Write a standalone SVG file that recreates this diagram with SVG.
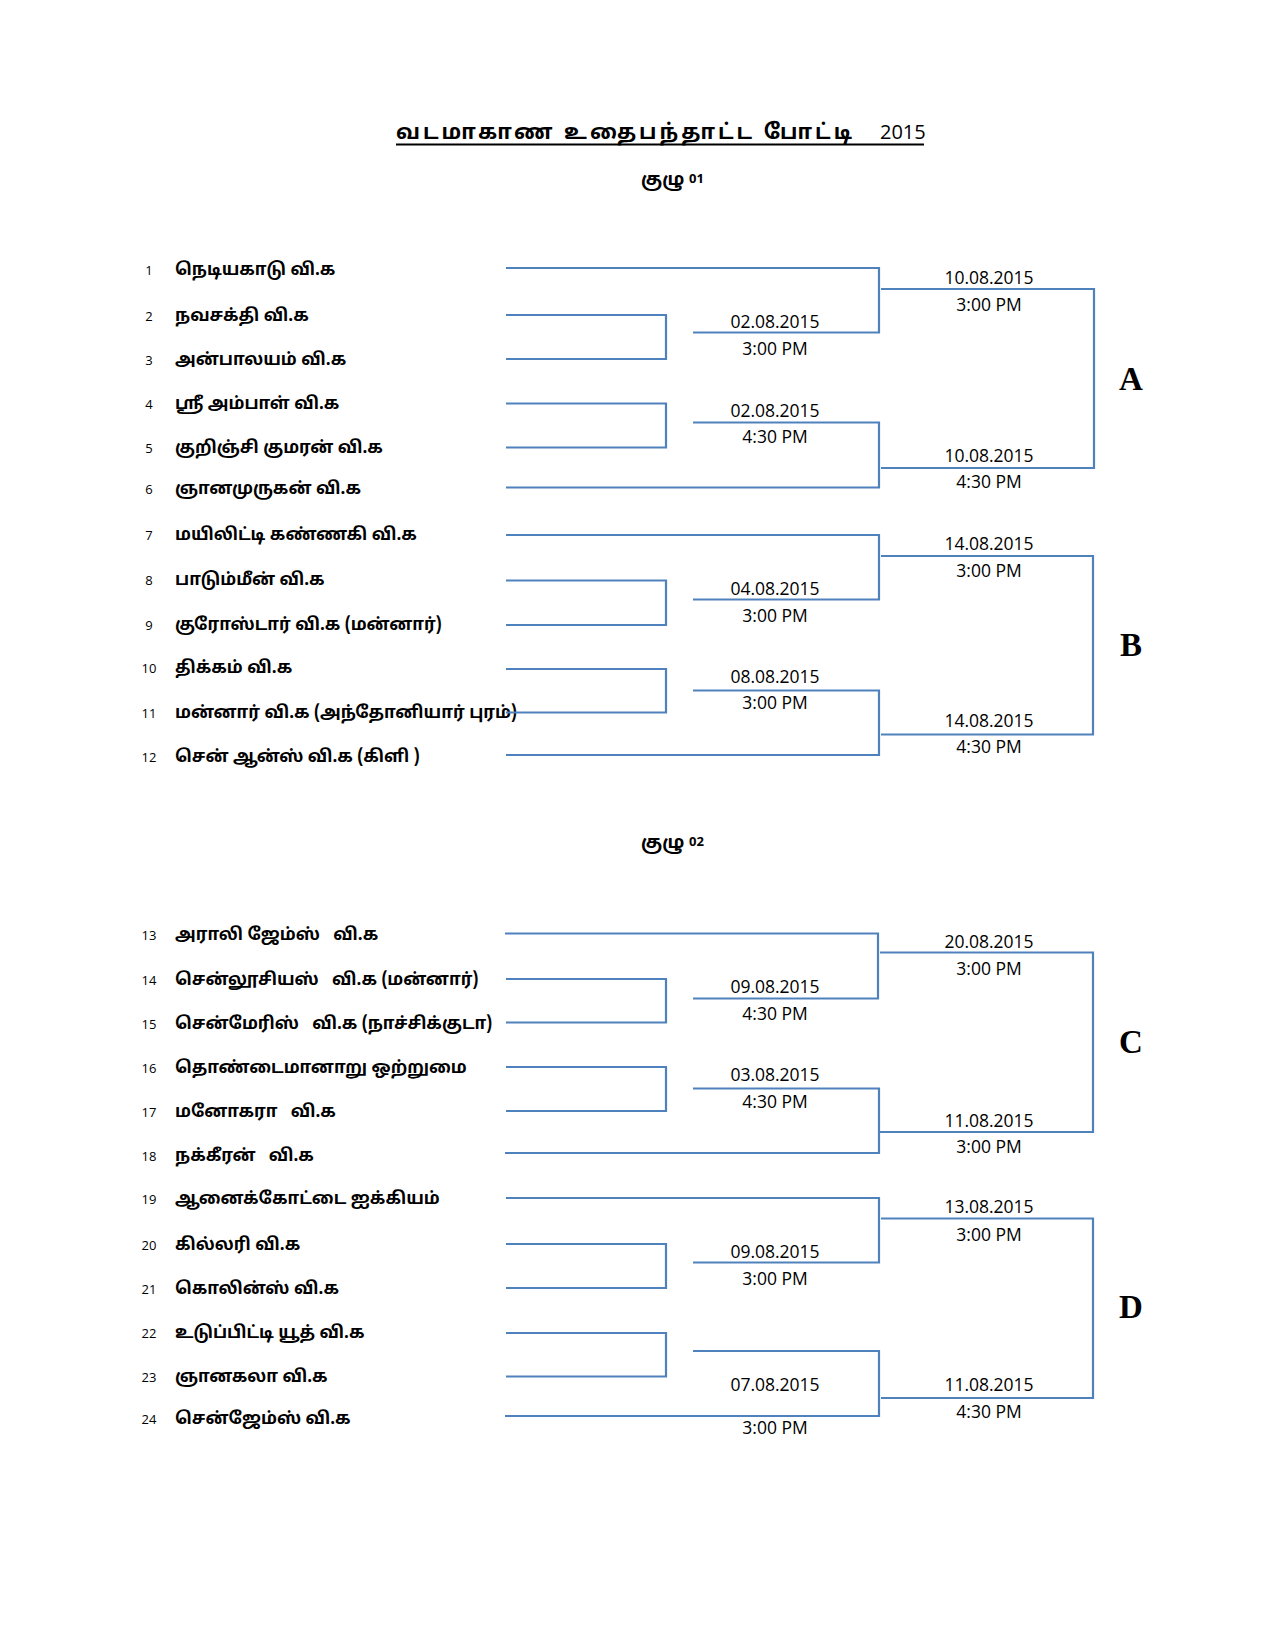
<svg xmlns="http://www.w3.org/2000/svg" width="1275" height="1650" viewBox="0 0 1275 1650">
<style>
.bg{fill:#ffffff}
.ln{stroke:#4F81BD;stroke-width:2.2;fill:none}
.num{font-family:"Open Sans","Liberation Sans",sans-serif;font-size:13px;fill:#000;text-anchor:middle}
.nm{font-family:"Noto Sans Tamil","Noto Sans","Liberation Sans",sans-serif;font-size:17px;font-weight:bold;fill:#000;white-space:pre}
.dt{font-family:"Open Sans","Liberation Sans",sans-serif;font-size:17.5px;fill:#000;text-anchor:middle}
.grp{font-family:"Liberation Serif",serif;font-size:33px;font-weight:bold;fill:#000;text-anchor:middle}
.ttl{font-family:"Noto Sans Tamil","Noto Sans","Liberation Sans",sans-serif;font-size:21px;font-weight:bold;fill:#000;white-space:pre}
.yr{font-family:"Open Sans","Liberation Sans",sans-serif;font-size:20px;fill:#000}
.hd{font-family:"Noto Sans Tamil","Noto Sans","Liberation Sans",sans-serif;font-size:18px;font-weight:bold;fill:#000}
.hn{font-family:"Open Sans","Liberation Sans",sans-serif;font-size:13px;font-weight:bold;fill:#000}
.ul{stroke:#000;stroke-width:2}
</style>
<rect class="bg" x="0" y="0" width="1275" height="1650"/>

<g id="title">
<text class="ttl" x="396" y="139" textLength="456" lengthAdjust="spacing">வடமாகாண உதைபந்தாட்ட போட்டி</text>
<text class="yr" x="880" y="139">2015</text>
<line class="ul" x1="396" y1="144.5" x2="924" y2="144.5"/>
</g>
<g id="heading1"><text class="hd" x="641" y="185">குழு</text><text class="hn" x="689" y="183">01</text></g>
<g id="heading2"><text class="hd" x="641" y="848">குழு</text><text class="hn" x="689" y="846">02</text></g>

<g id="teams">
<g id="t1"><text class="num" x="149" y="275">1</text><text class="nm" x="175" y="275">நெடியகாடு வி.க</text></g>
<g id="t2"><text class="num" x="149" y="321">2</text><text class="nm" x="175" y="321">நவசக்தி வி.க</text></g>
<g id="t3"><text class="num" x="149" y="365">3</text><text class="nm" x="175" y="365">அன்பாலயம் வி.க</text></g>
<g id="t4"><text class="num" x="149" y="409">4</text><text class="nm" x="175" y="409">ஸ்ரீ அம்பாள் வி.க</text></g>
<g id="t5"><text class="num" x="149" y="453">5</text><text class="nm" x="175" y="453">குறிஞ்சி குமரன் வி.க</text></g>
<g id="t6"><text class="num" x="149" y="494">6</text><text class="nm" x="175" y="494">ஞானமுருகன் வி.க</text></g>
<g id="t7"><text class="num" x="149" y="540">7</text><text class="nm" x="175" y="540">மயிலிட்டி கண்ணகி வி.க</text></g>
<g id="t8"><text class="num" x="149" y="585">8</text><text class="nm" x="175" y="585">பாடும்மீன் வி.க</text></g>
<g id="t9"><text class="num" x="149" y="630">9</text><text class="nm" x="175" y="630">குரோஸ்டார் வி.க (மன்னார்)</text></g>
<g id="t10"><text class="num" x="149" y="673">10</text><text class="nm" x="175" y="673">திக்கம் வி.க</text></g>
<g id="t11"><text class="num" x="149" y="718">11</text><text class="nm" x="175" y="718">மன்னார் வி.க (அந்தோனியார் புரம்)</text></g>
<g id="t12"><text class="num" x="149" y="762">12</text><text class="nm" x="175" y="762">சென் ஆன்ஸ் வி.க (கிளி )</text></g>
<g id="t13"><text class="num" x="149" y="940">13</text><text class="nm" x="175" y="940">அராலி ஜேம்ஸ்   வி.க</text></g>
<g id="t14"><text class="num" x="149" y="985">14</text><text class="nm" x="175" y="985">சென்லூசியஸ்   வி.க (மன்னார்)</text></g>
<g id="t15"><text class="num" x="149" y="1029">15</text><text class="nm" x="175" y="1029">சென்மேரிஸ்   வி.க (நாச்சிக்குடா)</text></g>
<g id="t16"><text class="num" x="149" y="1073">16</text><text class="nm" x="175" y="1073">தொண்டைமானாறு ஒற்றுமை</text></g>
<g id="t17"><text class="num" x="149" y="1117">17</text><text class="nm" x="175" y="1117">மனோகரா   வி.க</text></g>
<g id="t18"><text class="num" x="149" y="1161">18</text><text class="nm" x="175" y="1161">நக்கீரன்   வி.க</text></g>
<g id="t19"><text class="num" x="149" y="1204">19</text><text class="nm" x="175" y="1204">ஆனைக்கோட்டை ஐக்கியம்</text></g>
<g id="t20"><text class="num" x="149" y="1250">20</text><text class="nm" x="175" y="1250">கில்லரி வி.க</text></g>
<g id="t21"><text class="num" x="149" y="1294">21</text><text class="nm" x="175" y="1294">கொலின்ஸ் வி.க</text></g>
<g id="t22"><text class="num" x="149" y="1338">22</text><text class="nm" x="175" y="1338">உடுப்பிட்டி யூத் வி.க</text></g>
<g id="t23"><text class="num" x="149" y="1382">23</text><text class="nm" x="175" y="1382">ஞானகலா வி.க</text></g>
<g id="t24"><text class="num" x="149" y="1424">24</text><text class="nm" x="175" y="1424">சென்ஜேம்ஸ் வி.க</text></g>
</g>

<g id="connectors">
<path class="ln" d="M506 268 H879 V332.5 H693"/>
<path class="ln" d="M506 315 H666 V359 H506"/>
<path class="ln" d="M506 403.5 H666 V447.5 H506"/>
<path class="ln" d="M693 422.5 H879 V487.5 H506"/>
<path class="ln" d="M881 289 H1094 V468 H881"/>
<path class="ln" d="M506 535 H879 V599.5 H693"/>
<path class="ln" d="M506 580.5 H666 V625 H506"/>
<path class="ln" d="M506 669 H666 V712.5 H506"/>
<path class="ln" d="M693 690.5 H879 V755 H506"/>
<path class="ln" d="M881 556 H1093 V734.5 H881"/>
<path class="ln" d="M505 933.5 H878 V998.5 H693"/>
<path class="ln" d="M506 979 H666 V1022.5 H506"/>
<path class="ln" d="M506 1067 H666 V1111 H506"/>
<path class="ln" d="M693 1088.5 H879 V1153 H505"/>
<path class="ln" d="M880 952.5 H1093 V1132 H880"/>
<path class="ln" d="M506 1198 H879 V1262.5 H693"/>
<path class="ln" d="M506 1244 H666 V1288 H506"/>
<path class="ln" d="M506 1333 H666 V1376.5 H506"/>
<path class="ln" d="M693 1351 H879 V1416 H505"/>
<path class="ln" d="M881 1218.5 H1093 V1398 H881"/>
</g>

<g id="dates">
<text class="dt" x="775" y="328">02.08.2015</text><text class="dt" x="775" y="355">3:00 PM</text>
<text class="dt" x="989" y="284">10.08.2015</text><text class="dt" x="989" y="311">3:00 PM</text>
<text class="dt" x="775" y="416.5">02.08.2015</text><text class="dt" x="775" y="443">4:30 PM</text>
<text class="dt" x="989" y="461.5">10.08.2015</text><text class="dt" x="989" y="488">4:30 PM</text>
<text class="dt" x="775" y="595">04.08.2015</text><text class="dt" x="775" y="621.5">3:00 PM</text>
<text class="dt" x="989" y="549.5">14.08.2015</text><text class="dt" x="989" y="576.5">3:00 PM</text>
<text class="dt" x="775" y="682.5">08.08.2015</text><text class="dt" x="775" y="709">3:00 PM</text>
<text class="dt" x="989" y="726.5">14.08.2015</text><text class="dt" x="989" y="753">4:30 PM</text>
<text class="dt" x="775" y="993">09.08.2015</text><text class="dt" x="775" y="1020">4:30 PM</text>
<text class="dt" x="989" y="948">20.08.2015</text><text class="dt" x="989" y="975">3:00 PM</text>
<text class="dt" x="775" y="1081">03.08.2015</text><text class="dt" x="775" y="1107.5">4:30 PM</text>
<text class="dt" x="989" y="1126.5">11.08.2015</text><text class="dt" x="989" y="1152.5">3:00 PM</text>
<text class="dt" x="775" y="1257.5">09.08.2015</text><text class="dt" x="775" y="1285">3:00 PM</text>
<text class="dt" x="989" y="1213">13.08.2015</text><text class="dt" x="989" y="1240.5">3:00 PM</text>
<text class="dt" x="775" y="1390.5">07.08.2015</text><text class="dt" x="775" y="1434">3:00 PM</text>
<text class="dt" x="989" y="1390.5">11.08.2015</text><text class="dt" x="989" y="1418">4:30 PM</text>
</g>

<g id="groupLabels">
<text class="grp" x="1131" y="390">A</text>
<text class="grp" x="1131" y="656">B</text>
<text class="grp" x="1131" y="1053">C</text>
<text class="grp" x="1131" y="1318">D</text>
</g>
</svg>
